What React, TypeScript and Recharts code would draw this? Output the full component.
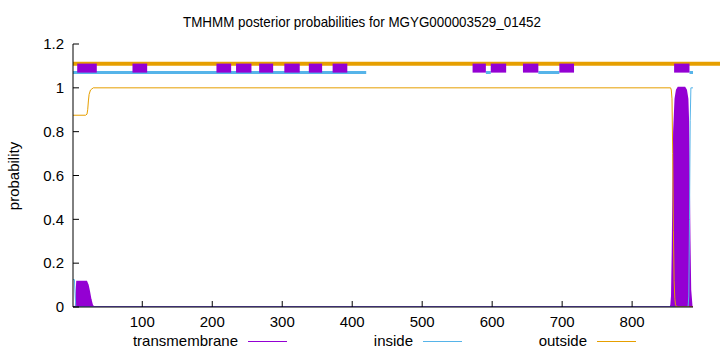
import React from 'react';
import { ComposedChart, Line, Area, XAxis, YAxis, ReferenceLine } from 'recharts';

// Posterior probability curves (residue -> probability)
const outsideRes = [1, 19, 21, 22, 23, 24, 26, 28, 30, 855, 856, 857, 858, 859, 860, 861, 862, 864, 887];
const outsideProb = [0.875, 0.875, 0.88, 0.9, 0.94, 0.97, 0.99, 0.995, 1.0, 1.0, 0.99, 0.95, 0.7, 0.35, 0.12, 0.04, 0.01, 0, 0];

const tmRes = [1, 5, 6, 7, 20, 22, 24, 26, 28, 30, 855, 856, 857, 858, 859, 860, 862, 864, 866, 875, 877, 879, 880, 881, 882, 883, 885, 887];
const tmProb = [0, 0, 0.06, 0.115, 0.115, 0.1, 0.07, 0.035, 0.01, 0, 0, 0.01, 0.05, 0.25, 0.55, 0.8, 0.95, 0.99, 1.0, 1.0, 0.99, 0.95, 0.85, 0.6, 0.3, 0.08, 0, 0];

const insideRes = [1, 3, 4, 5, 880, 881, 882, 883, 884, 887];
const insideProb = [0.125, 0.125, 0.06, 0, 0, 0.05, 0.4, 0.85, 1.0, 1.0];

// Predicted topology segments drawn above the plot (residue ranges)
const tmSegments = [[7, 35], [86, 107], [206, 227], [234, 256], [267, 287], [303, 325], [338, 357], [372, 393], [572, 591], [598, 620], [644, 666], [696, 717], [860, 882]];
const insideSegments = [[1, 420], [591, 598], [666, 696], [882, 887]];
const outsideSegments = [[1, 926]];
const tmLevel = 1.09;
const insideLevel = 1.07;
const outsideLevel = 1.11;

const xTicks = [100, 200, 300, 400, 500, 600, 700, 800];
const yTicks = [0, 0.2, 0.4, 0.6, 0.8, 1, 1.2];
const xDomain = [1, 887];
const yDomain = [0, 1.2];

const legendItems = [
  { name: 'transmembrane', color: '#9400D3' },
  { name: 'inside', color: '#56B4E9' },
  { name: 'outside', color: '#E69F00' },
];

const TM = '#9400D3';
const IN = '#56B4E9';
const OUT = '#E69F00';
const FONT = '"Liberation Sans", Arial, Helvetica, sans-serif';

function buildTable() {
  const map = new Map<number, any>();
  const add = (xs: number[], ys: number[], key: string) => {
    xs.forEach((x, i) => {
      const r = map.get(x) || { res: x };
      r[key] = ys[i];
      map.set(x, r);
    });
  };
  add(tmRes, tmProb, 'tm');
  add(insideRes, insideProb, 'inside');
  add(outsideRes, outsideProb, 'outside');
  return Array.from(map.values()).sort((a, b) => a.res - b.res);
}

const data = buildTable();

const tickStyle = { fill: '#000', fontSize: 15, fontFamily: FONT };

export default function App() {
  const legendTextRight = [238, 413, 587];
  return (
    <div style={{ position: 'absolute', left: 0, top: 0, width: 720, height: 352, background: '#fff' }}>
      <ComposedChart width={720} height={352} data={data} margin={{ top: 44, right: 27, bottom: 0, left: 0 }}>
        <XAxis
          dataKey="res"
          type="number"
          domain={xDomain}
          allowDataOverflow
          ticks={xTicks}
          interval={0}
          height={45}
          tickSize={-6}
          tickMargin={15}
          tick={tickStyle}
          axisLine={{ stroke: '#000' }}
          tickLine={{ stroke: '#000' }}
        />
        <XAxis
          xAxisId="top"
          dataKey="res"
          type="number"
          orientation="top"
          domain={xDomain}
          allowDataOverflow
          ticks={xTicks}
          interval={0}
          height={0}
          tickSize={-6}
          tickFormatter={() => ''}
          axisLine={{ stroke: '#000' }}
          tickLine={{ stroke: '#000' }}
        />
        <YAxis
          type="number"
          domain={yDomain}
          allowDataOverflow
          ticks={yTicks}
          interval={0}
          width={73}
          tickSize={-6}
          tickMargin={15}
          tick={tickStyle}
          axisLine={{ stroke: '#000' }}
          tickLine={{ stroke: '#000' }}
        />
        <YAxis
          yAxisId="right"
          type="number"
          orientation="right"
          domain={yDomain}
          allowDataOverflow
          ticks={yTicks}
          interval={0}
          width={0}
          tickSize={-6}
          tickFormatter={() => ''}
          axisLine={{ stroke: '#000' }}
          tickLine={{ stroke: '#000' }}
        />
        <Area
          dataKey="tm"
          type="linear"
          stroke={TM}
          strokeWidth={2}
          fill={TM}
          fillOpacity={1}
          connectNulls
          dot={false}
          activeDot={false}
          isAnimationActive={false}
        />
        <Line dataKey="inside" type="linear" stroke={IN} strokeWidth={1} dot={false} activeDot={false} connectNulls isAnimationActive={false} />
        <Line dataKey="outside" type="linear" stroke={OUT} strokeWidth={1} dot={false} activeDot={false} connectNulls isAnimationActive={false} />
        {outsideSegments.map((s, i) => (
          <ReferenceLine
            key={'o' + i}
            segment={[{ x: s[0], y: outsideLevel }, { x: s[1], y: outsideLevel }]}
            stroke={OUT}
            strokeWidth={4}
            ifOverflow="visible"
          />
        ))}
        {insideSegments.map((s, i) => (
          <ReferenceLine
            key={'i' + i}
            segment={[{ x: s[0], y: insideLevel }, { x: s[1], y: insideLevel }]}
            stroke={IN}
            strokeWidth={3}
            ifOverflow="visible"
          />
        ))}
        {tmSegments.map((s, i) => (
          <ReferenceLine
            key={'t' + i}
            segment={[{ x: s[0], y: tmLevel }, { x: s[1], y: tmLevel }]}
            stroke={TM}
            strokeWidth={9}
            ifOverflow="visible"
          />
        ))}
      </ComposedChart>
      <svg width={720} height={352} style={{ position: 'absolute', left: 0, top: 0, pointerEvents: 'none' }}>
        <text x={362} y={27} textAnchor="middle" fontFamily={FONT} fontSize={15} fill="#000" textLength={358} lengthAdjust="spacingAndGlyphs">
          TMHMM posterior probabilities for MGYG000003529_01452
        </text>
        <text x={19} y={176} transform="rotate(-90 19 176)" textAnchor="middle" fontFamily={FONT} fontSize={15} fill="#000">
          probability
        </text>
        {legendItems.map((it, i) => (
          <g key={it.name}>
            <text x={legendTextRight[i]} y={346} textAnchor="end" fontFamily={FONT} fontSize={15} fill="#000">
              {it.name}
            </text>
            <line x1={legendTextRight[i] + 10} x2={legendTextRight[i] + 49} y1={341.5} y2={341.5} stroke={it.color} strokeWidth={1} />
          </g>
        ))}
      </svg>
    </div>
  );
}
